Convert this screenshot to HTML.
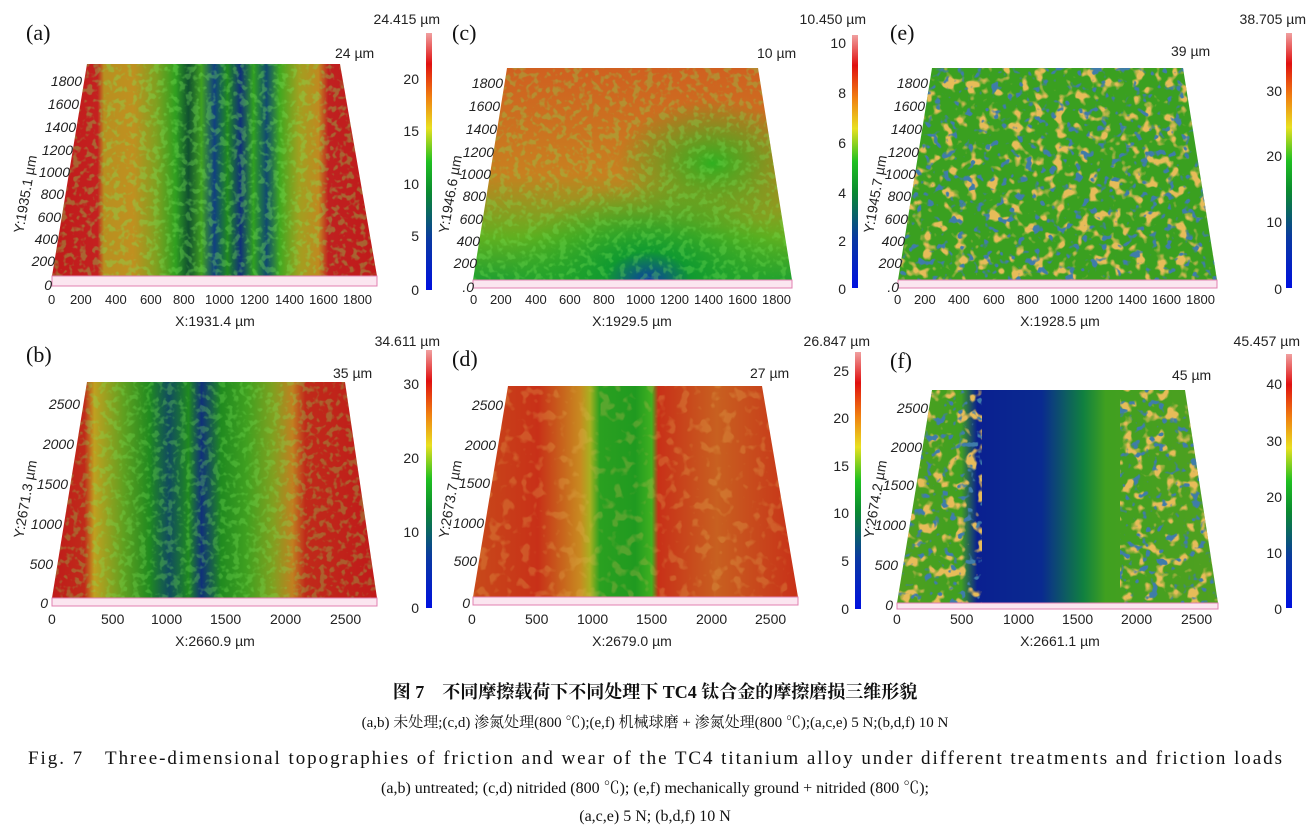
<!DOCTYPE html>
<html><head><meta charset="utf-8"><style>
html,body{margin:0;padding:0;background:#fff;}
svg{display:block}
.t{font-family:"Liberation Sans",sans-serif;fill:#222;font-size:14px}
.s{font-family:"Liberation Serif","Noto Serif CJK SC",serif;fill:#111}
</style></head><body>
<svg width="1309" height="834" viewBox="0 0 1309 834" xmlns="http://www.w3.org/2000/svg">
<defs>
<linearGradient id="cb" x1="0" y1="1" x2="0" y2="0">
<stop offset="0" stop-color="#0010e0"/><stop offset="0.2" stop-color="#0a3aa0"/><stop offset="0.38" stop-color="#0a8a30"/><stop offset="0.5" stop-color="#20c020"/><stop offset="0.63" stop-color="#e8e020"/><stop offset="0.75" stop-color="#f08010"/><stop offset="0.88" stop-color="#e01010"/><stop offset="1" stop-color="#f0a0a0"/>
</linearGradient>
<linearGradient id="ga" x1="0" y1="0" x2="1" y2="0">
<stop offset="0" stop-color="#c01a1a"/><stop offset="0.14" stop-color="#c42020"/><stop offset="0.16" stop-color="#b89020"/><stop offset="0.25" stop-color="#c09020"/><stop offset="0.32" stop-color="#80a020"/><stop offset="0.38" stop-color="#30a020"/><stop offset="0.42" stop-color="#105030"/><stop offset="0.46" stop-color="#40a020"/><stop offset="0.5" stop-color="#104080"/><stop offset="0.54" stop-color="#208a20"/><stop offset="0.58" stop-color="#10307a"/><stop offset="0.62" stop-color="#30a020"/><stop offset="0.66" stop-color="#104a70"/><stop offset="0.7" stop-color="#40a820"/><stop offset="0.76" stop-color="#a0a020"/><stop offset="0.82" stop-color="#c08a20"/><stop offset="0.85" stop-color="#c02020"/><stop offset="1" stop-color="#c01a1a"/>
</linearGradient>
<linearGradient id="gb" x1="0" y1="0" x2="1" y2="0">
<stop offset="0" stop-color="#c01a1a"/><stop offset="0.1" stop-color="#c02a1a"/><stop offset="0.13" stop-color="#c0a020"/><stop offset="0.22" stop-color="#60a020"/><stop offset="0.3" stop-color="#208a20"/><stop offset="0.36" stop-color="#104a60"/><stop offset="0.42" stop-color="#208a20"/><stop offset="0.46" stop-color="#10307a"/><stop offset="0.52" stop-color="#208a20"/><stop offset="0.6" stop-color="#40a020"/><stop offset="0.68" stop-color="#80a020"/><stop offset="0.74" stop-color="#c08020"/><stop offset="0.78" stop-color="#c02a1a"/><stop offset="1" stop-color="#c01a1a"/>
</linearGradient>
<linearGradient id="gd" x1="0" y1="0" x2="1" y2="0">
<stop offset="0" stop-color="#c84a1a"/><stop offset="0.2" stop-color="#c83018"/><stop offset="0.33" stop-color="#c88a20"/><stop offset="0.36" stop-color="#a8b020"/><stop offset="0.39" stop-color="#2aa020"/><stop offset="0.5" stop-color="#209a20"/><stop offset="0.55" stop-color="#40b020"/><stop offset="0.57" stop-color="#c83018"/><stop offset="0.75" stop-color="#c86020"/><stop offset="1" stop-color="#c83018"/>
</linearGradient>
<linearGradient id="gf" x1="0" y1="0" x2="1" y2="0">
<stop offset="0" stop-color="#50a020"/><stop offset="0.2" stop-color="#40a020"/><stop offset="0.25" stop-color="#0a2090"/><stop offset="0.45" stop-color="#0a2a90"/><stop offset="0.58" stop-color="#108040"/><stop offset="0.65" stop-color="#40a020"/><stop offset="1" stop-color="#50a020"/>
</linearGradient>
<linearGradient id="gc" x1="0" y1="0" x2="0" y2="1">
<stop offset="0" stop-color="#d06020"/><stop offset="0.5" stop-color="#c88020"/><stop offset="0.8" stop-color="#60b020"/><stop offset="1" stop-color="#20a030"/>
</linearGradient>
<radialGradient id="gc2" cx="0.55" cy="1" r="0.45">
<stop offset="0" stop-color="#0a40a0"/><stop offset="0.3" stop-color="#109a30"/><stop offset="1" stop-color="#30b020" stop-opacity="0"/>
</radialGradient>
<radialGradient id="gc3" cx="0.75" cy="0.45" r="0.3">
<stop offset="0" stop-color="#30b020"/><stop offset="1" stop-color="#30b020" stop-opacity="0"/>
</radialGradient>
<filter id="sp1" x="0" y="0" width="1" height="1">
<feTurbulence type="fractalNoise" baseFrequency="0.09" numOctaves="2" seed="3"/>
<feColorMatrix type="matrix" values="0 0 0 0 0.8  0 0 0 0 0.5  0 0 0 0 0.1  7 0 0 0 -3.8"/>
</filter>
<filter id="sp2" x="0" y="0" width="1" height="1">
<feTurbulence type="fractalNoise" baseFrequency="0.12" numOctaves="2" seed="9"/>
<feColorMatrix type="matrix" values="0 0 0 0 0.05  0 0 0 0 0.2  0 0 0 0 0.4  0 9 0 0 -5.4"/>
</filter>
<filter id="sp3" x="0" y="0" width="1" height="1">
<feTurbulence type="fractalNoise" baseFrequency="0.15" numOctaves="2" seed="5"/>
<feColorMatrix type="matrix" values="0 0 0 0 0.2  0 0 0 0 0.8  0 0 0 0 0.1  0 0 6 0 -3"/>
</filter>
<clipPath id="ca"><polygon points="87,64 340,64 377,276 52,276"/></clipPath>
<clipPath id="cc"><polygon points="507,68 758,68 792,280 473,280"/></clipPath>
<clipPath id="ce"><polygon points="932,68 1183,68 1217,280 898,280"/></clipPath>
<clipPath id="cbb"><polygon points="87,382 345,382 377,598 52,598"/></clipPath>
<clipPath id="cd"><polygon points="508,386 762,386 798,597 473,597"/></clipPath>
<clipPath id="cf"><polygon points="932,390 1185,390 1218,603 897,603"/></clipPath>
</defs>

<g clip-path="url(#ca)"><rect x="52" y="64" width="325" height="212" fill="url(#ga)"/><rect x="52" y="64" width="325" height="212" filter="url(#sp3)" opacity="0.35"/></g>
<rect x="52" y="276" width="325" height="10" fill="#fbe6f0" stroke="#e080b0" stroke-width="1"/>
<g clip-path="url(#cc)"><rect x="473" y="68" width="319" height="212" fill="url(#gc)"/><rect x="473" y="68" width="319" height="212" fill="url(#gc3)"/><rect x="473" y="68" width="319" height="212" fill="url(#gc2)"/><rect x="473" y="68" width="319" height="212" filter="url(#sp3)" opacity="0.3"/></g>
<rect x="473" y="280" width="319" height="8" fill="#fbe6f0" stroke="#e080b0" stroke-width="1"/>
<g clip-path="url(#ce)"><rect x="898" y="68" width="319" height="212" fill="#3aa020"/><rect x="898" y="68" width="319" height="212" filter="url(#sp1)"/><rect x="898" y="68" width="319" height="212" filter="url(#sp2)"/></g>
<rect x="898" y="280" width="319" height="8" fill="#fbe6f0" stroke="#e080b0" stroke-width="1"/>
<g clip-path="url(#cbb)"><rect x="52" y="382" width="325" height="216" fill="url(#gb)"/><rect x="52" y="382" width="325" height="216" filter="url(#sp3)" opacity="0.3"/></g>
<rect x="52" y="598" width="325" height="8" fill="#fbe6f0" stroke="#e080b0" stroke-width="1"/>
<g clip-path="url(#cd)"><rect x="473" y="386" width="325" height="211" fill="url(#gd)"/><rect x="473" y="386" width="325" height="211" filter="url(#sp1)" opacity="0.25"/></g>
<rect x="473" y="597" width="325" height="8" fill="#fbe6f0" stroke="#e080b0" stroke-width="1"/>
<g clip-path="url(#cf)"><rect x="897" y="390" width="321" height="213" fill="url(#gf)"/>
<rect x="897" y="390" width="85" height="213" filter="url(#sp1)"/><rect x="1120" y="390" width="98" height="213" filter="url(#sp1)"/>
<rect x="897" y="390" width="85" height="213" filter="url(#sp2)"/><rect x="1120" y="390" width="98" height="213" filter="url(#sp2)"/></g>
<rect x="897" y="603" width="321" height="6" fill="#fbe6f0" stroke="#e080b0" stroke-width="1"/>

<rect x="426" y="33" width="6" height="257" fill="url(#cb)"/>
<rect x="852" y="35" width="6" height="253" fill="url(#cb)"/>
<rect x="1286" y="33" width="6" height="255" fill="url(#cb)"/>
<rect x="426" y="350" width="6" height="258" fill="url(#cb)"/>
<rect x="855" y="352" width="6" height="257" fill="url(#cb)"/>
<rect x="1286" y="354" width="6" height="254" fill="url(#cb)"/>

<g class="s" font-size="22">
<text x="26" y="40">(a)</text><text x="452" y="40">(c)</text><text x="890" y="40">(e)</text>
<text x="26" y="362">(b)</text><text x="452" y="366">(d)</text><text x="890" y="368">(f)</text>
</g>

<g class="t">
<text x="440" y="24" text-anchor="end">24.415 µm</text>
<text x="335" y="58">24 µm</text>
<g text-anchor="end"><text x="419" y="84">20</text><text x="419" y="136">15</text><text x="419" y="189">10</text><text x="419" y="241">5</text><text x="419" y="295">0</text></g>
<g text-anchor="end" font-style="italic"><text x="82" y="86">1800</text><text x="79" y="109">1600</text><text x="76" y="132">1400</text><text x="73" y="155">1200</text><text x="70" y="177">1000</text><text x="64" y="199">800</text><text x="61" y="222">600</text><text x="58" y="244">400</text><text x="55" y="266">200</text><text x="52" y="290">0</text></g>
<g font-size="13"><text x="48" y="304">0</text><text x="70" y="304">200</text><text x="105" y="304">400</text><text x="140" y="304">600</text><text x="173" y="304">800</text><text x="205" y="304">1000</text><text x="240" y="304">1200</text><text x="275" y="304">1400</text><text x="309" y="304">1600</text><text x="343" y="304">1800</text></g>
<text x="215" y="326" text-anchor="middle">X:1931.4 µm</text>
<text transform="translate(30,195) rotate(-80)" text-anchor="middle">Y:1935.1 µm</text>

<text x="866" y="24" text-anchor="end">10.450 µm</text>
<text x="757" y="58">10 µm</text>
<g text-anchor="end"><text x="846" y="48">10</text><text x="846" y="98">8</text><text x="846" y="148">6</text><text x="846" y="198">4</text><text x="846" y="246">2</text><text x="846" y="294">0</text></g>
<g text-anchor="end" font-style="italic"><text x="503" y="88">1800</text><text x="500" y="111">1600</text><text x="497" y="134">1400</text><text x="494" y="157">1200</text><text x="491" y="179">1000</text><text x="486" y="201">800</text><text x="483" y="224">600</text><text x="480" y="246">400</text><text x="477" y="268">200</text><text x="474" y="292">.0</text></g>
<g font-size="13"><text x="470" y="304">0</text><text x="490" y="304">200</text><text x="525" y="304">400</text><text x="559" y="304">600</text><text x="593" y="304">800</text><text x="626" y="304">1000</text><text x="660" y="304">1200</text><text x="694" y="304">1400</text><text x="728" y="304">1600</text><text x="762" y="304">1800</text></g>
<text x="632" y="326" text-anchor="middle">X:1929.5 µm</text>
<text transform="translate(455,195) rotate(-80)" text-anchor="middle">Y:1946.6 µm</text>

<text x="1306" y="24" text-anchor="end">38.705 µm</text>
<text x="1171" y="56">39 µm</text>
<g text-anchor="end"><text x="1282" y="96">30</text><text x="1282" y="161">20</text><text x="1282" y="227">10</text><text x="1282" y="294">0</text></g>
<g text-anchor="end" font-style="italic"><text x="928" y="88">1800</text><text x="925" y="111">1600</text><text x="922" y="134">1400</text><text x="919" y="157">1200</text><text x="916" y="179">1000</text><text x="911" y="201">800</text><text x="908" y="224">600</text><text x="905" y="246">400</text><text x="902" y="268">200</text><text x="899" y="292">.0</text></g>
<g font-size="13"><text x="894" y="304">0</text><text x="914" y="304">200</text><text x="948" y="304">400</text><text x="983" y="304">600</text><text x="1017" y="304">800</text><text x="1050" y="304">1000</text><text x="1084" y="304">1200</text><text x="1118" y="304">1400</text><text x="1152" y="304">1600</text><text x="1186" y="304">1800</text></g>
<text x="1060" y="326" text-anchor="middle">X:1928.5 µm</text>
<text transform="translate(880,195) rotate(-80)" text-anchor="middle">Y:1945.7 µm</text>

<text x="440" y="346" text-anchor="end">34.611 µm</text>
<text x="333" y="378">35 µm</text>
<g text-anchor="end"><text x="419" y="389">30</text><text x="419" y="463">20</text><text x="419" y="537">10</text><text x="419" y="613">0</text></g>
<g text-anchor="end" font-style="italic"><text x="80" y="409">2500</text><text x="74" y="449">2000</text><text x="68" y="489">1500</text><text x="62" y="529">1000</text><text x="53" y="569">500</text><text x="48" y="608">0</text></g>
<text x="48" y="624">0</text><text x="101" y="624">500</text><text x="151" y="624">1000</text><text x="210" y="624">1500</text><text x="270" y="624">2000</text><text x="330" y="624">2500</text>
<text x="215" y="646" text-anchor="middle">X:2660.9 µm</text>
<text transform="translate(30,500) rotate(-80)" text-anchor="middle">Y:2671.3 µm</text>

<text x="870" y="346" text-anchor="end">26.847 µm</text>
<text x="750" y="378">27 µm</text>
<g text-anchor="end"><text x="849" y="376">25</text><text x="849" y="423">20</text><text x="849" y="471">15</text><text x="849" y="518">10</text><text x="849" y="566">5</text><text x="849" y="614">0</text></g>
<g text-anchor="end" font-style="italic"><text x="503" y="410">2500</text><text x="496" y="450">2000</text><text x="490" y="488">1500</text><text x="484" y="528">1000</text><text x="477" y="566">500</text><text x="470" y="608">0</text></g>
<text x="468" y="624">0</text><text x="525" y="624">500</text><text x="577" y="624">1000</text><text x="636" y="624">1500</text><text x="696" y="624">2000</text><text x="755" y="624">2500</text>
<text x="632" y="646" text-anchor="middle">X:2679.0 µm</text>
<text transform="translate(455,500) rotate(-80)" text-anchor="middle">Y:2673.7 µm</text>

<text x="1300" y="346" text-anchor="end">45.457 µm</text>
<text x="1172" y="380">45 µm</text>
<g text-anchor="end"><text x="1282" y="389">40</text><text x="1282" y="446">30</text><text x="1282" y="502">20</text><text x="1282" y="558">10</text><text x="1282" y="614">0</text></g>
<g text-anchor="end" font-style="italic"><text x="928" y="413">2500</text><text x="922" y="452">2000</text><text x="914" y="490">1500</text><text x="906" y="530">1000</text><text x="898" y="570">500</text><text x="893" y="610">0</text></g>
<text x="893" y="624">0</text><text x="950" y="624">500</text><text x="1003" y="624">1000</text><text x="1062" y="624">1500</text><text x="1121" y="624">2000</text><text x="1181" y="624">2500</text>
<text x="1060" y="646" text-anchor="middle">X:2661.1 µm</text>
<text transform="translate(880,500) rotate(-80)" text-anchor="middle">Y:2674.2 µm</text>
</g>

<g class="s" text-anchor="middle">
<text x="655" y="698" font-size="18" font-weight="bold">图 7　不同摩擦载荷下不同处理下 TC4 钛合金的摩擦磨损三维形貌</text>
<text x="655" y="727" font-size="15">(a,b) 未处理;(c,d) 渗氮处理(800 ℃);(e,f) 机械球磨 + 渗氮处理(800 ℃);(a,c,e) 5 N;(b,d,f) 10 N</text>
<text x="655" y="764" font-size="19" textLength="1254" lengthAdjust="spacing">Fig. 7　Three-dimensional topographies of friction and wear of the TC4 titanium alloy under different treatments and friction loads</text>
<text x="655" y="793" font-size="16">(a,b)  untreated;  (c,d)  nitrided  (800 ℃);  (e,f)  mechanically ground +  nitrided  (800 ℃);</text>
<text x="655" y="821" font-size="16">(a,c,e)  5 N;  (b,d,f)  10 N</text>
</g>
</svg>
</body></html>
